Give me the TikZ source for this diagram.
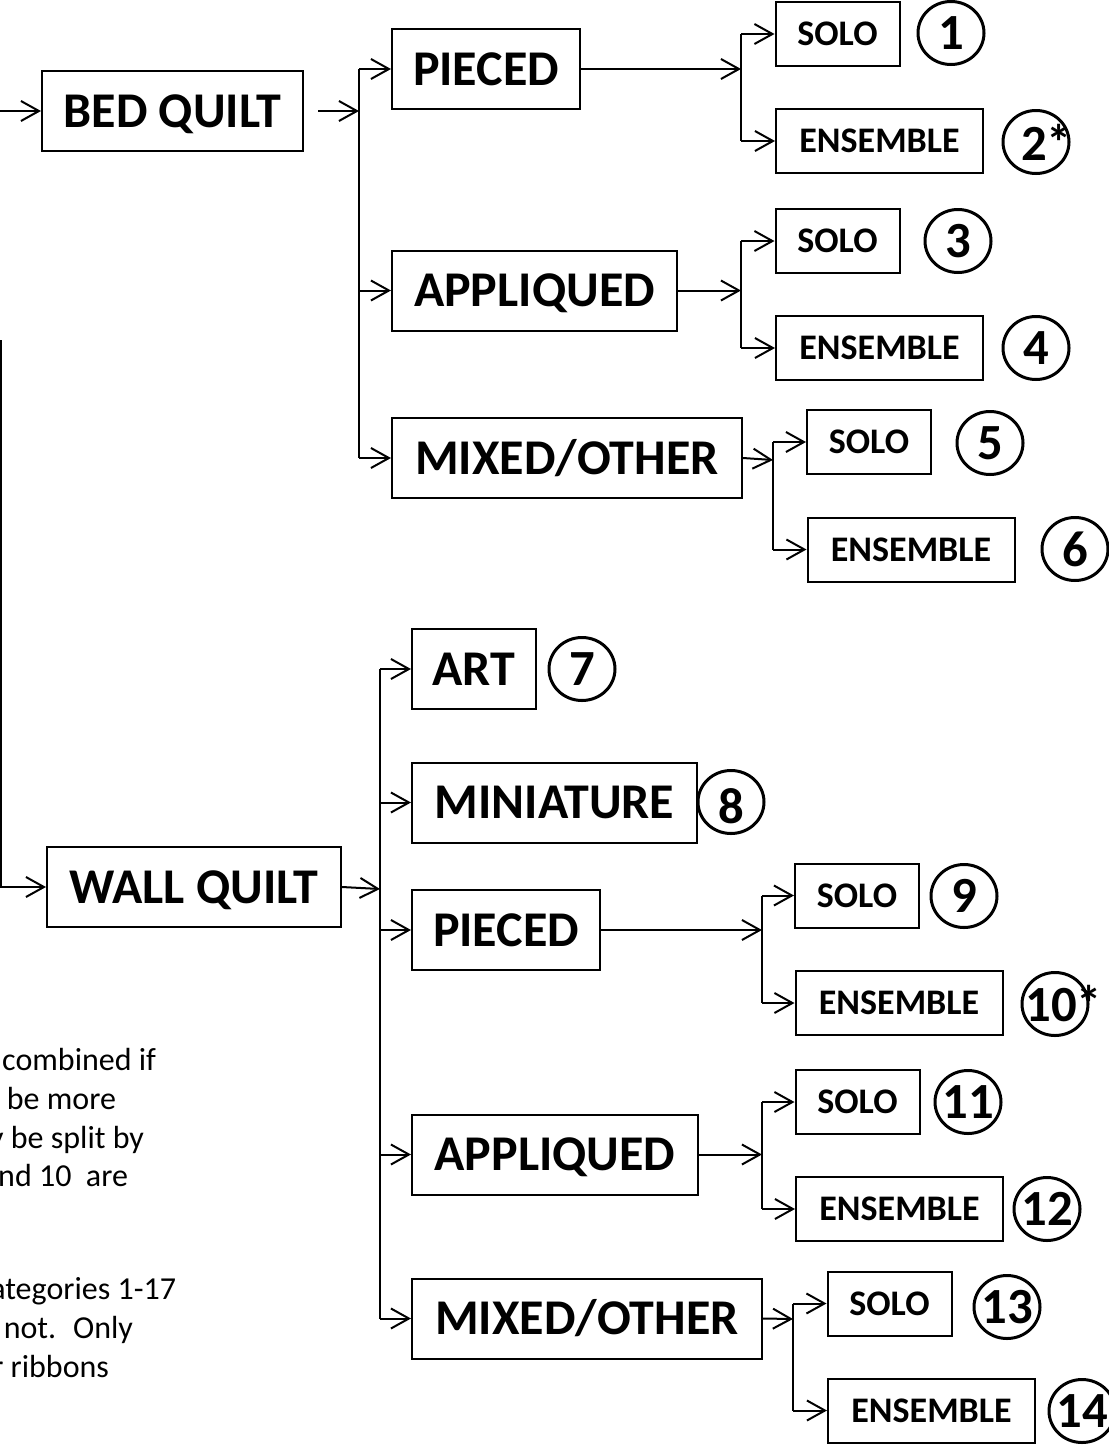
\documentclass[tikz,border=0pt]{standalone}
\usepackage{fontspec}
\setmainfont{Carlito}
\usetikzlibrary{arrows.meta}
\begin{document}
\begin{tikzpicture}[x=0.75pt,y=-0.75pt,
  line width=1.5pt,
  arr/.style={-{Straight Barb[length=13.5pt,width=15pt]}},
  bigbox/.style={draw,inner sep=0pt,minimum height=60pt,text height=24.2pt,text depth=0pt,font=\fontsize{37.5}{45}\bfseries\selectfont},
  smallbox/.style={draw,inner sep=0pt,minimum height=48pt,text height=17.4pt,text depth=0pt,font=\fontsize{27}{32}\bfseries\selectfont},
  solobox/.style={smallbox,minimum width=93pt},
  ensbox/.style={smallbox,minimum width=155.25pt},
  numtxt/.style={inner sep=0pt,font=\fontsize{38}{45}\bfseries\selectfont},
  ring/.style={line width=2.25pt},
  note/.style={anchor=base east,inner sep=0pt,font=\fontsize{24}{29}\selectfont}
]
\useasboundingbox (0,0) rectangle (1109,1446);
% bed quilt branch
\node[bigbox,minimum width=195.75pt] (bed) at (172.5,111) {BED QUILT};
\node[bigbox,minimum width=141pt] (pc1) at (486,69) {PIECED};
\node[bigbox,minimum width=213.75pt] (ap1) at (534.5,290.5) {APPLIQUED};
\node[bigbox,minimum width=262.5pt] (mx1) at (567,458) {MIXED/OTHER};
\node[solobox] (s1) at (837.5,34) {SOLO};
\node[ensbox] (e2) at (879.5,141) {ENSEMBLE};
\node[solobox] (s3) at (837.5,241) {SOLO};
\node[ensbox] (e4) at (879.5,348) {ENSEMBLE};
\node[solobox] (s5) at (869,442) {SOLO};
\node[ensbox] (e6) at (911,549.5) {ENSEMBLE};
% wall quilt branch
\node[bigbox,minimum width=220.5pt] (wall) at (194,887) {WALL QUILT};
\node[bigbox,minimum width=93pt] (art) at (474,669) {ART};
\node[bigbox,minimum width=213.75pt] (mini) at (554.5,802.5) {MINIATURE};
\node[bigbox,minimum width=141pt] (pc2) at (506,930) {PIECED};
\node[solobox] (s9) at (857,895.5) {SOLO};
\node[ensbox] (e10) at (899,1003) {ENSEMBLE};
\node[bigbox,minimum width=214.5pt] (ap2) at (555,1154.5) {APPLIQUED};
\node[solobox] (s11) at (857.5,1102) {SOLO};
\node[ensbox] (e12) at (899.5,1209) {ENSEMBLE};
\node[bigbox,minimum width=262.5pt] (mx2) at (587,1318.5) {MIXED/OTHER};
\node[solobox] (s13) at (889.5,1303.5) {SOLO};
\node[ensbox] (e14) at (931.5,1410.5) {ENSEMBLE};
% circled numbers
\node[numtxt] (n1) at (951,33) {1};
\node[numtxt] (n2) at (1034,142) {2\rlap{*}};
\node[numtxt] (n3) at (958,241) {3};
\node[numtxt] (n4) at (1036,348) {4};
\node[numtxt] (n5) at (990,443) {5};
\node[numtxt] (n6) at (1075,549) {6};
\node[numtxt] (n7) at (582,669) {7};
\node[numtxt] (n8) at (731,806) {8};
\node[numtxt] (n9) at (964,896) {9};
\node[numtxt] (n10) at (1051,1004) {10\rlap{*}};
\node[numtxt] (n11) at (968,1102) {11};
\node[numtxt] (n12) at (1047,1209) {12};
\node[numtxt] (n13) at (1007,1307) {13};
\node[numtxt] (n14) at (1082,1411) {14};
\foreach \p in {(951,33),(1036,142),(958,241),(1036,348),(990,443),(1075,549),(582,669),(731,802),(964,896),(1055,1004),(968,1102),(1047,1209),(1007,1307),(1082,1411)}
  \draw[ring] \p ellipse [x radius=33,y radius=31.5];
% connectors: root
\coordinate (in0) at (0,111);
\draw[arr] (in0) -- (bed.west);
\coordinate (lv) at (0.6,340);
\draw[arr] (lv) |- (wall.west);
% bed quilt
\coordinate (bj) at (359,111);
\draw[arr] ([xshift=10.5pt]bed.east) -- (bj);
\draw (bj |- pc1.west) -- (bj |- mx1.west);
\foreach \t in {pc1,ap1,mx1} \draw[arr] (bj |- \t.west) -- (\t.west);
\coordinate (b1) at (741,69);
\draw[arr] (pc1.east) -- (b1);
\draw (b1 |- s1.west) -- (b1 |- e2.west);
\foreach \t in {s1,e2} \draw[arr] (b1 |- \t.west) -- (\t.west);
\coordinate (b2) at (741,290.5);
\draw[arr] (ap1.east) -- (b2);
\draw (b2 |- s3.west) -- (b2 |- e4.west);
\foreach \t in {s3,e4} \draw[arr] (b2 |- \t.west) -- (\t.west);
\coordinate (b3) at (773,460);
\draw[arr] (mx1.east) -- (b3);
\draw (b3 |- s5.west) -- (b3 |- e6.west);
\foreach \t in {s5,e6} \draw[arr] (b3 |- \t.west) -- (\t.west);
% wall quilt
\coordinate (wj) at (380,889);
\draw[arr] (wall.east) -- (wj);
\draw (wj |- art.west) -- (wj |- mx2.west);
\foreach \t in {art,mini,pc2,ap2,mx2} \draw[arr] (wj |- \t.west) -- (\t.west);
\coordinate (b4) at (762,930);
\draw[arr] (pc2.east) -- (b4);
\draw (b4 |- s9.west) -- (b4 |- e10.west);
\foreach \t in {s9,e10} \draw[arr] (b4 |- \t.west) -- (\t.west);
\coordinate (b5) at (762,1154.5);
\draw[arr] (ap2.east) -- (b5);
\draw (b5 |- s11.west) -- (b5 |- e12.west);
\foreach \t in {s11,e12} \draw[arr] (b5 |- \t.west) -- (\t.west);
\coordinate (b6) at (793,1319);
\draw[arr] (mx2.east) -- (b6);
\draw (b6 |- s13.west) -- (b6 |- e14.west);
\foreach \t in {s13,e14} \draw[arr] (b6 |- \t.west) -- (\t.west);
% cropped note text
\node[note] (t1) at (157,1070) {combined if};
\node[note] (t2) at (117,1109) {l be more};
\node[note] (t3) at (145,1148) {y be split by};
\node[note] (t4) at (129,1186) {nd 10~ are};
\node[note] (t5) at (177,1299) {ategories 1-17};
\node[note] (t6) at (134,1338) {e not.~ Only};
\node[note] (t7) at (110,1377) {r ribbons};
\end{tikzpicture}
\end{document}
